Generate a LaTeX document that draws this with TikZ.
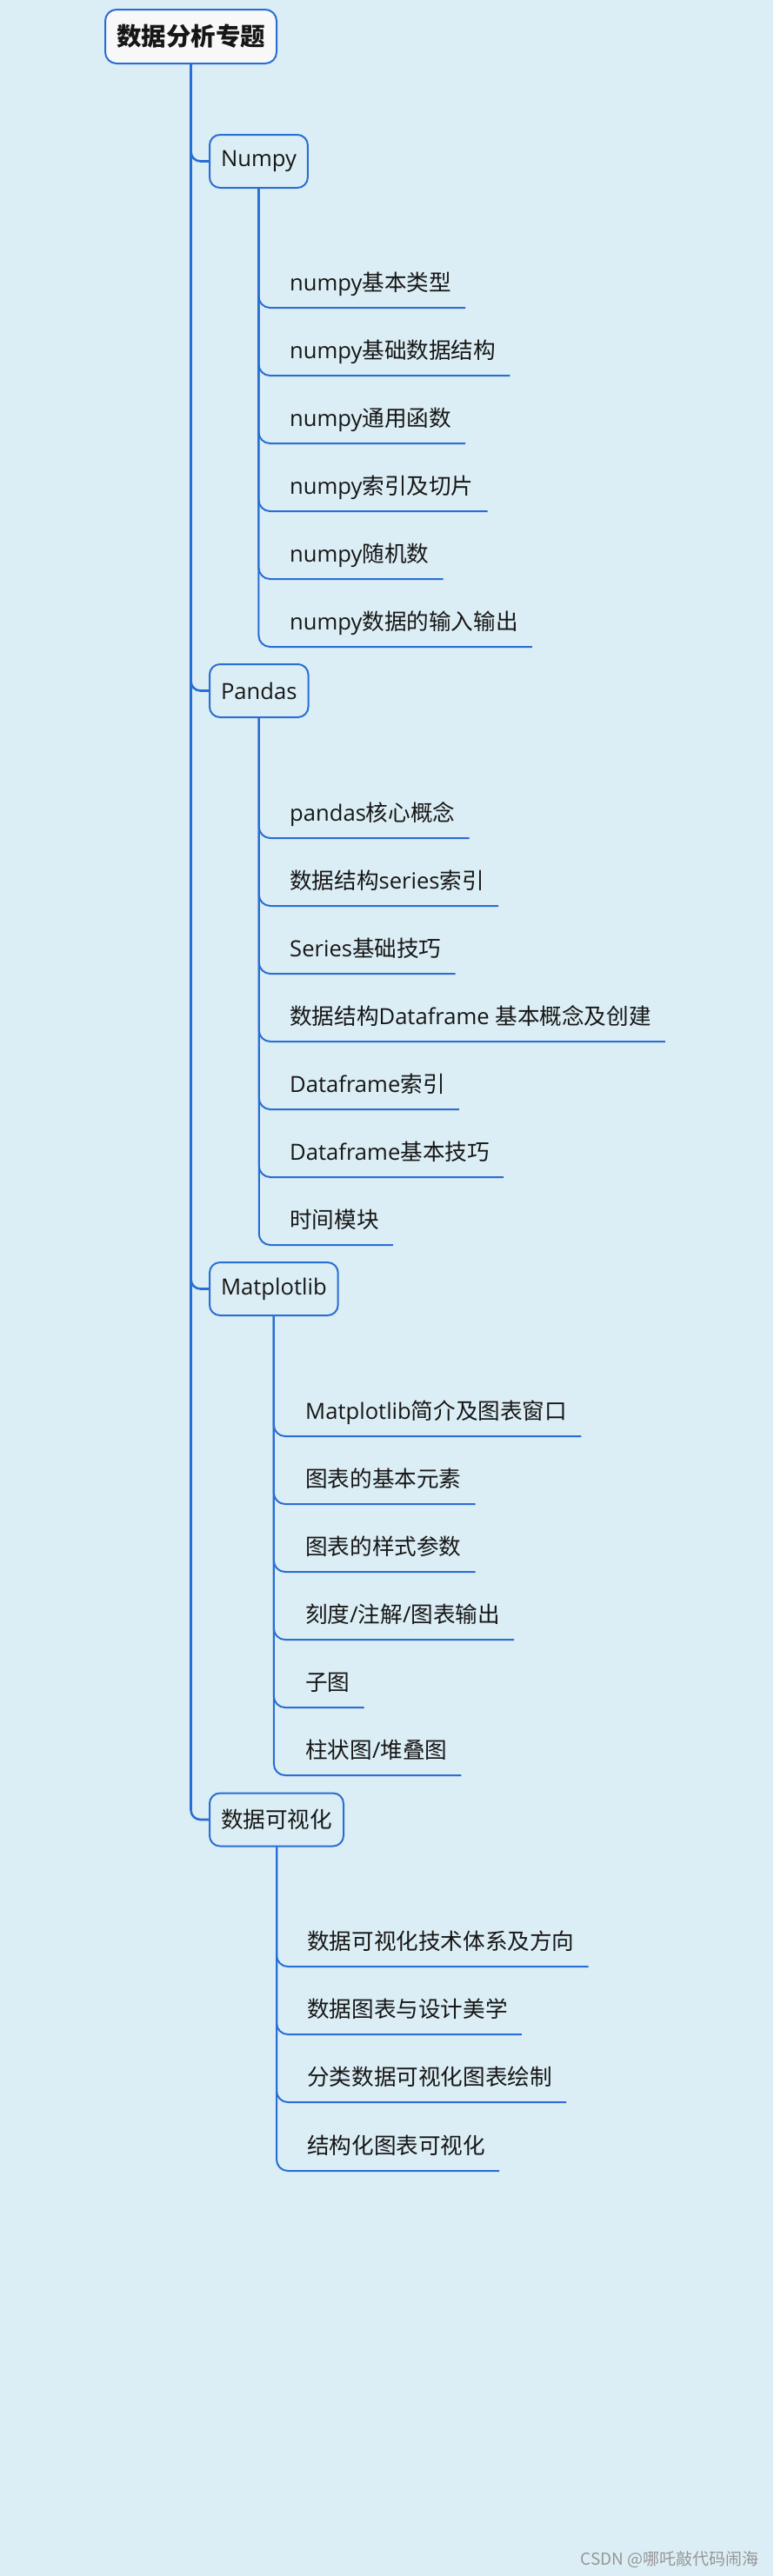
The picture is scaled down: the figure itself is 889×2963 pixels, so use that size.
\documentclass[tikz,border=0pt]{standalone}
\usepackage{fontspec}
\setmainfont{Noto Sans CJK SC}
\newfontfamily\latf{Open Sans}
\newcommand\lat[1]{{\latf #1}}
\definecolor{bgc}{RGB}{220,238,245}
\definecolor{linec}{RGB}{41,110,212}
\definecolor{rootfill}{RGB}{248,248,249}
\definecolor{txtc}{RGB}{22,22,22}
\definecolor{wmc}{RGB}{150,150,150}
\tikzset{
  rootbox/.style={draw=linec, line width=2pt, fill=rootfill, rounded corners=13pt,
    minimum width=195pt, minimum height=62pt, inner xsep=13pt, text=txtc,
    font=\fontsize{28.5pt}{32pt}\selectfont\bfseries},
  topicbox/.style={draw=linec, line width=2pt, rounded corners=12pt, anchor=west,
    minimum height=61pt, inner xsep=13pt, text=txtc,
    font=\fontsize{25.6pt}{30pt}\selectfont},
  leaf/.style={anchor=south west, inner xsep=16pt, inner ysep=13pt,
    text height=20pt, text depth=6pt, text=txtc,
    font=\fontsize{25.6pt}{30pt}\selectfont},
  trunk/.style={draw=linec, line width=2.6pt, rounded corners=11pt},
  branch/.style={draw=linec, line width=2pt, rounded corners=13pt},
}
\begin{document}
\begin{tikzpicture}[x=1pt,y=-1pt]
\fill[bgc] (0,0) rectangle (889,2963);
\useasboundingbox (0,0) rectangle (889,2963);

\node[rootbox] (root) at (219.5,42) {数据分析专题};

\node[topicbox] (numpy) at (240,185.5) {\lat{Numpy}};
\node[topicbox] (pandas) at (240,794.5) {\lat{Pandas}};
\node[topicbox] (mpl) at (240,1482.5) {\lat{Matplotlib}};
\node[topicbox] (vis) at (240,2093) {数据可视化};

\draw[trunk] (root.south) |- (numpy.west);
\draw[trunk] (root.south) |- (pandas.west);
\draw[trunk] (root.south) |- (mpl.west);
\draw[trunk] (root.south) |- (vis.west);

% Numpy leaves
\node[leaf] (n1) at (317,354) {\lat{numpy}基本类型};
\node[leaf] (n2) at (317,432) {\lat{numpy}基础数据结构};
\node[leaf] (n3) at (317,510) {\lat{numpy}通用函数};
\node[leaf] (n4) at (317,588) {\lat{numpy}索引及切片};
\node[leaf] (n5) at (317,666) {\lat{numpy}随机数};
\node[leaf] (n6) at (317,744) {\lat{numpy}数据的输入输出};
\foreach \n in {n1,n2,n3,n4,n5,n6}
  \draw[branch] (numpy.south) |- (\n.south east);

% Pandas leaves
\node[leaf] (p1) at (317,964) {\lat{pandas}核心概念};
\node[leaf] (p2) at (317,1042) {数据结构\lat{series}索引};
\node[leaf] (p3) at (317,1120) {\lat{Series}基础技巧};
\node[leaf] (p4) at (317,1198) {数据结构\lat{Dataframe }基本概念及创建};
\node[leaf] (p5) at (317,1276) {\lat{Dataframe}索引};
\node[leaf] (p6) at (317,1354) {\lat{Dataframe}基本技巧};
\node[leaf] (p7) at (317,1432) {时间模块};
\foreach \n in {p1,p2,p3,p4,p5,p6,p7}
  \draw[branch] (pandas.south) |- (\n.south east);

% Matplotlib leaves
\node[leaf] (m1) at (335,1652) {\lat{Matplotlib}简介及图表窗口};
\node[leaf] (m2) at (335,1730) {图表的基本元素};
\node[leaf] (m3) at (335,1808) {图表的样式参数};
\node[leaf] (m4) at (335,1886) {刻度\lat{/}注解\lat{/}图表输出};
\node[leaf] (m5) at (335,1964) {子图};
\node[leaf] (m6) at (335,2042) {柱状图\lat{/}堆叠图};
\foreach \n in {m1,m2,m3,m4,m5,m6}
  \draw[branch] (mpl.south) |- (\n.south east);

% Visualisation leaves
\node[leaf] (v1) at (337,2262) {数据可视化技术体系及方向};
\node[leaf] (v2) at (337,2340) {数据图表与设计美学};
\node[leaf] (v3) at (337,2418) {分类数据可视化图表绘制};
\node[leaf] (v4) at (337,2497) {结构化图表可视化};
\foreach \n in {v1,v2,v3,v4}
  \draw[branch] (vis.south) |- (\n.south east);

\node[anchor=base east, inner sep=0pt, text=wmc, font=\fontsize{19pt}{22pt}\selectfont] (wm) at (873,2950) {CSDN @哪吒敲代码闹海};
\end{tikzpicture}
\end{document}
